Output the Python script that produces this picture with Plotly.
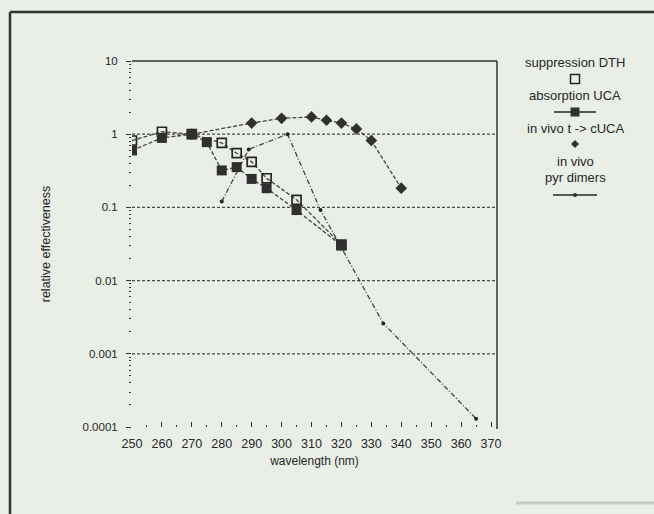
import plotly.graph_objects as go

# Action spectra: wavelength (nm) and relative effectiveness
dth_nm = [250, 260, 270, 280, 285, 290, 295, 305, 320]
dth_eff = [0.82, 1.08, 1.0, 0.76, 0.55, 0.42, 0.25, 0.127, 0.031]

uca_nm = [250, 260, 270, 275, 280, 285, 290, 295, 305, 320]
uca_eff = [0.60, 0.89, 1.0, 0.78, 0.32, 0.355, 0.245, 0.183, 0.092, 0.030]

cuca_nm = [270, 290, 300, 310, 315, 320, 325, 330, 340]
cuca_eff = [1.0, 1.42, 1.65, 1.72, 1.55, 1.42, 1.18, 0.82, 0.183]

pyr_nm = [280, 289, 302, 313, 334, 365]
pyr_eff = [0.12, 0.62, 1.0, 0.092, 0.0026, 0.00013]

x_ticks = list(range(250, 371, 10))
y_ticks = [10, 1, 0.1, 0.01, 0.001, 0.0001]
y_tick_text = ["10", "1", "0.1", "0.01", "0.001", "0.0001"]
grid_levels = [1, 0.1, 0.01, 0.001]

W, H = 654, 514
ML, MR, MT, MB = 132, 157, 61, 87
PW, PH = W - ML - MR, H - MT - MB

BG = "#e9eee6"
INK = "#262626"
LINE = "#444444"
FONT = "Liberation Sans"


def px(x):
    return (x - ML) / PW


def py(y):
    return (H - MB - y) / PH


fig = go.Figure()

fig.add_trace(go.Scatter(
    x=dth_nm, y=dth_eff, mode="lines+markers", name="suppression DTH",
    line=dict(color=LINE, width=1.3, dash="4px,2px"),
    marker=dict(symbol="square-open", size=9, color=INK, line=dict(width=1.7, color=INK)),
))
fig.add_trace(go.Scatter(
    x=pyr_nm, y=pyr_eff, mode="lines+markers", name="in vivo pyr dimers",
    line=dict(color=LINE, width=1.3, dash="5px,2px,1px,2px"),
    marker=dict(symbol="circle", size=4, color=INK),
))
fig.add_trace(go.Scatter(
    x=uca_nm, y=uca_eff, mode="lines+markers", name="absorption UCA",
    line=dict(color=LINE, width=1.3, dash="4px,2px"),
    marker=dict(symbol="square", size=10, color="#303030", line=dict(width=0)),
))
fig.add_trace(go.Scatter(
    x=cuca_nm, y=cuca_eff, mode="lines+markers", name="in vivo t -> cUCA",
    line=dict(color=LINE, width=1.3, dash="4px,2px"),
    marker=dict(symbol="diamond", size=9, color="#303030"),
))

shapes = []
# dashed horizontal grid at each decade
for g in grid_levels:
    shapes.append(dict(type="line", xref="paper", yref="y", x0=0, x1=1, y0=g, y1=g,
                       line=dict(color="#4a4a4a", width=1.2, dash="3px,2px"), layer="below"))
# top and right frame of the plot area
shapes.append(dict(type="line", xref="paper", yref="paper", x0=0, x1=1, y0=1, y1=1,
                   line=dict(color="#333333", width=1.5)))
shapes.append(dict(type="line", xref="paper", yref="paper", x0=1, x1=1, y0=py(429), y1=1,
                   line=dict(color="#333333", width=1.5)))
# outer panel frame
shapes.append(dict(type="line", xref="paper", yref="paper", x0=px(10), x1=px(660), y0=py(12), y1=py(12),
                   line=dict(color="#333333", width=2.5)))
shapes.append(dict(type="line", xref="paper", yref="paper", x0=px(10), x1=px(10), y0=py(12), y1=py(520),
                   line=dict(color="#333333", width=2.5)))
# faint edge at lower right of the panel
shapes.append(dict(type="line", xref="paper", yref="paper", x0=px(516), x1=px(660), y0=py(503), y1=py(503),
                   line=dict(color="#c6cbc3", width=3)))

# legend keys
LX = 575
shapes.append(dict(type="rect", xref="paper", yref="paper", xsizemode="pixel", ysizemode="pixel",
                   xanchor=px(LX), yanchor=py(79), x0=-4.5, x1=4.5, y0=-4.5, y1=4.5,
                   line=dict(color=INK, width=1.5), fillcolor="rgba(0,0,0,0)"))
shapes.append(dict(type="line", xref="paper", yref="paper", x0=px(LX - 21), x1=px(LX + 21),
                   y0=py(112), y1=py(112), line=dict(color=INK, width=1.4)))
shapes.append(dict(type="rect", xref="paper", yref="paper", xsizemode="pixel", ysizemode="pixel",
                   xanchor=px(LX), yanchor=py(112), x0=-4.5, x1=4.5, y0=-4.5, y1=4.5,
                   line=dict(width=0), fillcolor="#303030"))
shapes.append(dict(type="path", xref="paper", yref="paper", xsizemode="pixel", ysizemode="pixel",
                   xanchor=px(LX), yanchor=py(144), path="M 0 4 L 4 0 L 0 -4 L -4 0 Z",
                   line=dict(width=0), fillcolor="#303030"))
shapes.append(dict(type="line", xref="paper", yref="paper", x0=px(LX - 22), x1=px(LX + 22),
                   y0=py(195), y1=py(195), line=dict(color=INK, width=1.4)))
shapes.append(dict(type="circle", xref="paper", yref="paper", xsizemode="pixel", ysizemode="pixel",
                   xanchor=px(LX), yanchor=py(195), x0=-2, x1=2, y0=-2, y1=2,
                   line=dict(width=0), fillcolor="#303030"))

annotations = []
legend_rows = [("suppression DTH", 62), ("absorption UCA", 95), ("in vivo t -> cUCA", 128),
               ("in vivo", 161), ("pyr dimers", 177)]
for text, yy in legend_rows:
    annotations.append(dict(text=text, xref="paper", yref="paper", x=px(LX), y=py(yy),
                            xanchor="center", yanchor="middle", showarrow=False,
                            font=dict(family=FONT, size=13, color=INK)))

fig.update_layout(
    width=W, height=H, autosize=False,
    margin=dict(l=ML, r=MR, t=MT, b=MB, pad=0),
    paper_bgcolor=BG, plot_bgcolor=BG,
    showlegend=False,
    font=dict(family=FONT, size=11, color=INK),
    shapes=shapes, annotations=annotations,
    xaxis=dict(
        range=[250, 372], tickvals=x_ticks, ticks="inside", ticklen=5, tickwidth=1.3,
        tickcolor="#333333", showgrid=False, showline=False, zeroline=False,
        minor=dict(ticks="inside", ticklen=2, tickwidth=1.3, tickcolor="#333333", dtick=5, showgrid=False),
        title=dict(text="wavelength (nm)", standoff=7, font=dict(size=12)),
        tickfont=dict(size=12.5), ticklabelstandoff=7,
    ),
    yaxis=dict(
        type="log", range=[-4, 1], tickvals=y_ticks, ticktext=y_tick_text,
        ticks="outside", ticklen=5, tickwidth=1.3, tickcolor="#333333",
        showgrid=False, showline=False, zeroline=False,
        minor=dict(ticks="outside", ticklen=2, tickwidth=1.3, tickcolor="#333333", dtick="D1", showgrid=False),
        title=dict(text="relative effectiveness", standoff=29, font=dict(size=12.5)),
        tickfont=dict(size=11.5), ticklabelstandoff=6,
    ),
)

fig.write_html("out.html")
